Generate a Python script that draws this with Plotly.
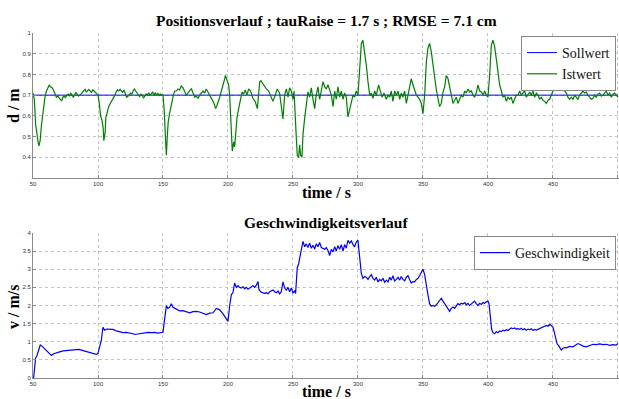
import plotly.graph_objects as go

# ---------------- data ----------------
soll_t = [50, 500]
soll_d = [0.7, 0.7]

ist_t = [50, 51, 52, 53, 54, 54.6, 55.5, 56.4, 57.3, 58.2, 59.2, 60.3, 61.5, 62.5, 63.5, 64.9,
         66, 67, 68, 69, 70, 71, 72, 73, 74, 75, 76, 77, 78, 79, 80, 81, 82, 83, 84, 85, 86, 87,
         88, 89, 90, 91, 92, 93, 94, 95, 96, 97, 98, 99, 100,
         101, 102, 103, 104, 104.5, 105.5, 106, 107, 108, 109, 110, 111, 112, 113, 114, 115, 116,
         117, 118, 119, 120, 121, 122, 123, 124, 125, 126, 127, 128, 129, 130, 131, 132, 133, 134,
         135, 136, 137, 138, 139, 140, 141, 142, 143, 144, 145, 146, 147, 148, 149, 150,
         151, 152, 152.6, 153.3, 154, 155, 156, 157, 158, 159,
         160.3, 161.5, 162.8, 164.1, 165.4, 166.7, 168, 169.2, 170.5, 171.8,
         173.1, 174.4, 175.6, 177, 178.2, 179.5, 180.8, 182, 183.3, 184.6,
         185.9, 187.2, 188.5, 189.5, 190.5, 191.5, 192.3, 193.6, 194.9, 195.8,
         196.7, 197.5, 198, 198.8, 199.5,
         200.5, 201.3, 202, 202.6, 203.3, 204.4, 205.1, 205.9, 206.9, 208.2,
         209.5, 210.8, 212, 213.3, 214.6, 215.9, 217.4, 219.2, 221, 222.6,
         223.5, 224.4, 225.3, 226.2, 227.7, 229.5, 231.3, 233.3, 234.6, 236.4,
         237.9, 239.7, 241, 242.3, 243.6, 244.9, 246.2, 247.4, 248.7, 250,
         250.8, 251.8, 252.6, 253.3, 254.4, 255.1, 255.9, 256.9, 257.7, 259,
         260.3, 261.5, 262.8, 264.1, 265.4, 266.7, 267.9, 269.2, 270.5, 271.8,
         273.1, 274.4, 275.6, 276.9, 278.2, 279.5, 280.8, 282.1, 283.3, 284.6,
         285.9, 287.2, 288.5, 289.7, 291, 292.3, 293.6, 294.9, 296.2, 297.4,
         298.7, 300,
         301.3, 302.6, 303.8, 305.1, 306.4, 307.7, 309, 310.3, 311.5, 312.8,
         314.1, 315.9, 317.4, 318.5, 320, 321.8, 323.1, 324.4, 325.6, 326.9,
         328.2, 329.5, 330.8, 332.1, 333.3, 334.6, 335.9, 337.2, 338.5, 339.7,
         341, 342.3, 343.6, 344.9, 346.2, 347.4, 348.7, 350,
         351.3, 352.6, 353.8, 355.1, 356.4, 357.7, 359, 360.3, 361.5, 362.8,
         364.1, 365.4, 366.7, 367.9, 369.2, 370.5, 371.8, 373.1, 374.4, 375.6,
         376.9, 378.2, 379.5, 380.8, 382.1, 383.3, 384.6, 385.9, 387.2, 388.5,
         389.7, 391, 392.3, 393.6, 394.9, 396.2, 397.4, 398.7, 400,
         401.3, 402.6, 403.8, 405.1, 406.4, 407.7, 409, 410.3, 411.5, 412.8,
         414.1, 415.4, 416.7, 417.9, 419.2, 420.5, 421.8, 423.1, 424.4, 425.6,
         426.9, 428.2, 429.5, 430.8, 432.1, 433.3, 434.6, 435.9, 437.2, 438.5,
         439.7, 441, 442.3, 443.6, 444.9, 446.2, 447.4, 448.7, 450,
         451.3, 452.6, 453.8, 455.1, 456.4, 457.7, 459, 460.3, 461.5, 462.8,
         464.1, 465.4, 466.7, 467.9, 469.2, 470.5, 471.8, 473.1, 474.4, 475.6,
         476.9, 478.2, 479.5, 480.8, 482.1, 483.3, 484.6, 485.9, 487.2, 488.5,
         489.7, 491, 492.3, 493.6, 494.9, 496.2, 497.4, 498.7, 500]

ist_d = [0.71, 0.68, 0.56, 0.50, 0.47, 0.455, 0.48, 0.55, 0.60, 0.65, 0.69, 0.72, 0.74, 0.748, 0.74, 0.735,
         0.72, 0.70, 0.69, 0.695, 0.685, 0.68, 0.672, 0.69, 0.695, 0.688, 0.70, 0.705, 0.695, 0.71,
         0.70, 0.69, 0.70, 0.712, 0.705, 0.695, 0.70, 0.705, 0.712, 0.722, 0.728, 0.715, 0.72, 0.728,
         0.72, 0.714, 0.726, 0.72, 0.715, 0.71, 0.70,
         0.66, 0.60, 0.58, 0.54, 0.48, 0.52, 0.59, 0.62, 0.64, 0.655, 0.665, 0.675, 0.69, 0.70, 0.715,
         0.725, 0.72, 0.728, 0.72, 0.714, 0.725, 0.71, 0.69, 0.695, 0.70, 0.71, 0.704, 0.72, 0.73,
         0.72, 0.71, 0.70, 0.693, 0.705, 0.70, 0.685, 0.70, 0.706, 0.70, 0.712, 0.70, 0.705, 0.716,
         0.70, 0.712, 0.70, 0.71, 0.698, 0.705, 0.70, 0.70,
         0.62, 0.48, 0.41, 0.50, 0.57, 0.61, 0.635, 0.67, 0.70, 0.72,
         0.72, 0.73, 0.725, 0.745, 0.735, 0.72, 0.70, 0.71, 0.72, 0.732,
         0.71, 0.69, 0.695, 0.685, 0.70, 0.71, 0.72, 0.71, 0.73, 0.715,
         0.70, 0.69, 0.67, 0.655, 0.635, 0.65, 0.67, 0.69, 0.72, 0.74,
         0.75, 0.78, 0.795, 0.78, 0.77,
         0.75, 0.70, 0.60, 0.49, 0.43, 0.475, 0.45, 0.51, 0.59, 0.635,
         0.685, 0.715, 0.705, 0.725, 0.70, 0.73, 0.72, 0.685, 0.668, 0.635,
         0.70, 0.765, 0.77, 0.76, 0.745, 0.73, 0.72, 0.69, 0.67, 0.70,
         0.73, 0.71, 0.65, 0.585, 0.70, 0.73, 0.69, 0.735, 0.72, 0.68,
         0.72, 0.62, 0.49, 0.41, 0.40, 0.46, 0.41, 0.40, 0.51, 0.59,
         0.65, 0.715, 0.69, 0.735, 0.68, 0.635, 0.70, 0.74, 0.68, 0.72,
         0.765, 0.74, 0.73, 0.75, 0.72, 0.70, 0.645, 0.72, 0.68, 0.74,
         0.69, 0.72, 0.68, 0.71, 0.69, 0.595, 0.63, 0.66, 0.70, 0.69,
         0.72, 0.70,
         0.86, 0.95, 0.965, 0.91, 0.845, 0.765, 0.70, 0.71, 0.685, 0.72,
         0.70, 0.75, 0.72, 0.69, 0.71, 0.68, 0.70, 0.69, 0.72, 0.67,
         0.72, 0.70, 0.72, 0.68, 0.71, 0.69, 0.72, 0.66, 0.70, 0.74,
         0.78, 0.75, 0.72, 0.70, 0.69, 0.68, 0.66, 0.61,
         0.70, 0.86, 0.925, 0.95, 0.91, 0.845, 0.78, 0.725, 0.685, 0.645,
         0.66, 0.715, 0.74, 0.795, 0.78, 0.74, 0.71, 0.66, 0.675, 0.69,
         0.66, 0.68, 0.70, 0.69, 0.72, 0.71, 0.73, 0.715, 0.72, 0.70,
         0.69, 0.71, 0.75, 0.72, 0.715, 0.70, 0.72, 0.70, 0.69,
         0.80, 0.94, 0.965, 0.935, 0.875, 0.81, 0.75, 0.72, 0.69, 0.70,
         0.67, 0.69, 0.68, 0.69, 0.66, 0.68, 0.70, 0.70, 0.72, 0.70,
         0.71, 0.72, 0.69, 0.70, 0.715, 0.70, 0.72, 0.69, 0.71, 0.70,
         0.68, 0.69, 0.675, 0.67, 0.66, 0.675, 0.68, 0.70, 0.72,
         0.77, 0.82, 0.80, 0.78, 0.76, 0.74, 0.72, 0.71, 0.69, 0.68,
         0.69, 0.68, 0.70, 0.69, 0.68, 0.70, 0.71, 0.72, 0.71, 0.715,
         0.70, 0.69, 0.68, 0.685, 0.70, 0.69, 0.705, 0.71, 0.695, 0.70,
         0.71, 0.72, 0.70, 0.71, 0.69, 0.705, 0.71, 0.70, 0.69]

speed_t = [50, 50.5, 51.3, 52, 53.1, 54.4, 55.6, 56.9, 58.2, 60.3,
           62.1, 64.1, 65.9, 67.9, 70.5, 73.1, 75.6, 78.2, 80.8, 83.3,
           85.4, 87.2, 89.7, 92.3, 94.9, 97.4, 98.7, 100,
           101.3, 102.6, 103.8, 105.1, 106.9, 109, 111.5, 114.1, 116.7, 119.2,
           121.8, 124.4, 127, 128.2, 130.8, 133.3, 135.9, 138.5, 141, 143.6,
           146.2, 148.7, 150,
           150.8, 151.8, 152.6, 153.8, 155.1, 156.4, 157.7, 160.3, 162.8, 165.4,
           167.9, 170.5, 173.1, 175.6, 178.2, 180.8, 183.3, 185.9, 188.5, 191,
           193.6, 196.2, 198.7, 200,
           201.3, 202.6, 203.8, 205.1, 206.4, 207.7, 209, 210.3, 211.5, 212.8,
           214.1, 215.4, 216.7, 217.9, 219.2, 220.5, 221.8, 223.1, 223.8, 225.1,
           226.9, 228.2, 229.5, 230.8, 232.1, 233.3, 234.6, 235.9, 237.2, 238.5,
           239.7, 241, 242.3, 243.6, 244.9, 246.2, 247.4, 248.7, 250, 251.3,
           252, 253.3, 254.4, 255.1, 256.4, 257.7, 259, 260.3, 261.5, 262.8,
           264.1, 265.4, 266.7, 267.9, 269.2, 270.5, 271.8, 273.1, 274.4, 275.6,
           276.9, 278.2, 279.5, 280.8, 282.1, 283.3, 284.6, 285.9, 287.2, 288.5,
           289.7, 291, 292.3, 293.6, 294.9, 296.2, 297.4, 298.7, 300,
           300.8, 301.8, 302.6, 303.8, 305.1, 306.4, 307.7, 309, 310.3, 311.5,
           312.8, 314.1, 315.4, 316.7, 317.9, 319.2, 320.5, 321.8, 323.1, 324.4,
           325.6, 326.9, 328.2, 329.5, 330.8, 332.1, 333.3, 334.6, 335.9, 337.2,
           338.5, 339.7, 341, 342.3, 343.6, 344.9, 346.2, 347.4, 348.7, 350,
           351.3, 352.6, 353.8, 355.1, 356.4, 357.7, 359, 360.3, 361.5, 362.8,
           364.1, 365.4, 366.7, 367.9, 369.2, 370.5, 371.8, 373.1, 374.4, 375.6,
           376.9, 378.2, 379.5, 380.8, 382.1, 383.3, 384.6, 385.9, 387.2, 388.5,
           389.7, 391, 392.3, 393.6, 394.9, 396.2, 397.4, 398.7, 400,
           400.8, 401.8, 402.8, 403.8, 405.1, 406.4, 407.7, 409, 410.3, 411.5,
           412.8, 414.1, 415.4, 416.7, 417.9, 419.2, 420.5, 421.8, 423.1, 424.4,
           425.6, 426.9, 428.2, 429.5, 430.8, 432.1, 433.3, 434.6, 435.9, 437.2,
           438.5, 439.7, 441, 442.3, 443.6, 444.9, 446.2, 447.4, 448.7, 450,
           450.8, 451.8, 453.1, 454.6, 456.4, 457.7, 459, 460.3, 462.8, 465.4,
           467.9, 469.2, 470.5, 473.1, 475.6, 478.2, 480.8, 483.3, 485.9, 488.5,
           491, 493.6, 496.2, 498.7, 500]

speed_v = [0.0, 0.0, 0.3, 0.55, 0.62, 0.80, 0.91, 0.88, 0.83, 0.75,
           0.70, 0.62, 0.67, 0.70, 0.72, 0.75, 0.76, 0.75, 0.76, 0.77,
           0.79, 0.77, 0.74, 0.72, 0.68, 0.66, 0.65, 0.68,
           0.88, 1.05, 1.40, 1.32, 1.35, 1.35, 1.34, 1.30, 1.27, 1.25,
           1.26, 1.25, 1.22, 1.20, 1.22, 1.24, 1.25, 1.26, 1.25, 1.26,
           1.24, 1.26, 1.26,
           1.50, 1.90, 1.99, 1.92, 1.95, 2.05, 1.95, 1.90, 1.85, 1.86,
           1.82, 1.80, 1.83, 1.84, 1.82, 1.78, 1.75, 1.79, 1.80, 1.92,
           1.88, 1.77, 1.62, 1.56,
           2.0, 2.30, 2.35, 2.62, 2.50, 2.55, 2.50, 2.48, 2.52, 2.46,
           2.50, 2.45, 2.48, 2.52, 2.55, 2.50, 2.56, 2.66, 2.45, 2.38,
           2.36, 2.33, 2.36, 2.32, 2.38, 2.40, 2.43, 2.38, 2.35, 2.40,
           2.32, 2.38, 2.65, 2.48, 2.42, 2.50, 2.38, 2.48, 2.35, 2.40,
           2.33, 3.05, 3.15, 3.30, 3.50, 3.77, 3.62, 3.70, 3.60, 3.72,
           3.58, 3.66, 3.56, 3.70, 3.62, 3.74, 3.60, 3.58, 3.55, 3.60,
           3.52, 3.38, 3.55, 3.48, 3.62, 3.50, 3.65, 3.55, 3.68, 3.50,
           3.68, 3.58, 3.80, 3.72, 3.78, 3.68, 3.62, 3.75, 3.80,
           3.50, 3.10, 2.88, 2.75, 2.80, 2.78, 2.72, 2.80, 2.85, 2.75,
           2.70, 2.78, 2.65, 2.72, 2.68, 2.75, 2.64, 2.70, 2.65, 2.78,
           2.70, 2.82, 2.68, 2.72, 2.78, 2.70, 2.80, 2.72, 2.68, 2.78,
           2.82, 2.72, 2.62, 2.66, 2.65, 2.72, 2.75, 2.82, 2.90, 3.00,
           2.85, 2.50, 2.30, 2.05, 1.98, 2.00, 1.98, 2.02, 2.08, 2.12,
           2.20, 2.12, 2.05, 1.98, 1.92, 1.84, 1.92, 1.96, 1.92, 2.00,
           2.05, 2.02, 2.06, 2.04, 2.08, 2.02, 2.06, 2.00, 2.05, 2.08,
           2.12, 2.05, 2.00, 2.06, 2.03, 2.08, 2.06, 2.10, 2.12,
           2.05, 1.60, 1.35, 1.25, 1.22, 1.28, 1.25, 1.30, 1.28, 1.32,
           1.30, 1.33, 1.31, 1.35, 1.38, 1.36, 1.38, 1.35, 1.36, 1.34,
           1.37, 1.33, 1.36, 1.32, 1.35, 1.33, 1.36, 1.31, 1.34, 1.32,
           1.34, 1.36, 1.38, 1.40, 1.42, 1.45, 1.43, 1.48, 1.45, 1.40,
           1.30, 1.10, 0.95, 0.88, 0.77, 0.82, 0.84, 0.83, 0.87, 0.86,
           0.92, 0.95, 0.93, 0.88, 0.86, 0.90, 0.93, 0.92, 0.94, 0.92,
           0.93, 0.90, 0.92, 0.91, 0.95]

assert len(ist_t) == len(ist_d), (len(ist_t), len(ist_d))
assert len(speed_t) == len(speed_v), (len(speed_t), len(speed_v))

x_ticks = [50, 100, 150, 200, 250, 300, 350, 400, 450, 500]
d_ticks = [0.4, 0.5, 0.6, 0.7, 0.8, 0.9, 1.0]
d_ticktext = ["0.4", "0.5", "0.6", "0.7", "0.8", "0.9", "1"]
v_ticks = [0, 0.5, 1, 1.5, 2, 2.5, 3, 3.5, 4]
v_ticktext = ["0", "0.5", "1", "1.5", "2", "2.5", "3", "3.5", "4"]

title_top = "Positionsverlauf ; tauRaise = 1.7 s ; RMSE = 7.1 cm"
title_bottom = "Geschwindigkeitsverlauf"

# ---------------- figure ----------------
W, H = 619, 399
SERIF = "Liberation Serif, Times New Roman, serif"
BLUE = "#0000ff"
GREEN = "#008000"

def py(p):  # pixel from top -> paper y
    return 1 - p / H

fig = go.Figure()
fig.add_trace(go.Scatter(x=soll_t, y=soll_d, mode="lines", name="Sollwert",
                         line=dict(color=BLUE, width=1), xaxis="x", yaxis="y", legend="legend"))
fig.add_trace(go.Scatter(x=ist_t, y=ist_d, mode="lines", name="Istwert",
                         line=dict(color=GREEN, width=1.2), xaxis="x", yaxis="y", legend="legend"))
fig.add_trace(go.Scatter(x=speed_t, y=speed_v, mode="lines", name="Geschwindigkeit",
                         line=dict(color=BLUE, width=1.2), xaxis="x2", yaxis="y2", legend="legend2"))

axis_common = dict(showline=True, linecolor="#8a8a8a", linewidth=1, mirror=False,
                   ticks="inside", ticklen=3, tickcolor="#8a8a8a", tickwidth=1,
                   showgrid=True, gridcolor="#c4c4c4", griddash="dot", gridwidth=1,
                   zeroline=False, automargin=False,
                   tickfont=dict(family="Liberation Sans, Arial", size=6, color="#333"))

x_dom = [33 / W, 1.0]
fig.update_layout(
    width=W, height=H, autosize=False,
    margin=dict(l=0, r=0, t=0, b=0, autoexpand=False),
    paper_bgcolor="white", plot_bgcolor="white",
    xaxis=dict(domain=x_dom, range=[50, 500.8], tickvals=x_ticks, anchor="y", **axis_common),
    yaxis=dict(domain=[py(178), py(33)], range=[0.3, 1.0], tickvals=d_ticks, ticktext=d_ticktext,
               anchor="x", **axis_common),
    xaxis2=dict(domain=x_dom, range=[50, 500.8], tickvals=x_ticks, anchor="y2", **axis_common),
    yaxis2=dict(domain=[py(378), py(233)], range=[0, 4.0], tickvals=v_ticks, ticktext=v_ticktext,
                anchor="x2", **axis_common),
    legend=dict(x=616 / W, y=py(36), xanchor="right", yanchor="top", bgcolor="white",
                bordercolor="#888", borderwidth=1, itemwidth=30, tracegroupgap=0,
                font=dict(family=SERIF, size=14, color="#111")),
    legend2=dict(x=616 / W, y=py(236), xanchor="right", yanchor="top", bgcolor="white",
                 bordercolor="#888", borderwidth=1, itemwidth=30,
                 font=dict(family=SERIF, size=14, color="#111")),
    showlegend=True,
)

ann_font_t = dict(family=SERIF, size=15.5, color="black")
ann_font_a = dict(family=SERIF, size=16, color="black")
cx = (33 + 619) / 2 / W
annotations = [
    dict(text="<b>%s</b>" % title_top, x=cx, y=py(20), font=ann_font_t),
    dict(text="<b>%s</b>" % title_bottom, x=cx, y=py(222), font=ann_font_t),
    dict(text="<b>time / s</b>", x=cx, y=py(192), font=ann_font_a),
    dict(text="<b>time / s</b>", x=cx, y=py(391), font=ann_font_a),
    dict(text="<b>d / m</b>", x=13 / W, y=py(106), textangle=-90, font=ann_font_a),
    dict(text="<b>v / m/s</b>", x=13 / W, y=py(307), textangle=-90, font=ann_font_a),
]
for a in annotations:
    a.update(xref="paper", yref="paper", xanchor="center", yanchor="middle", showarrow=False)
fig.update_layout(annotations=annotations)

fig.write_html("out.html", config={"displayModeBar": False},
               post_script="document.body.style.margin='0';document.body.style.overflow='hidden';")
